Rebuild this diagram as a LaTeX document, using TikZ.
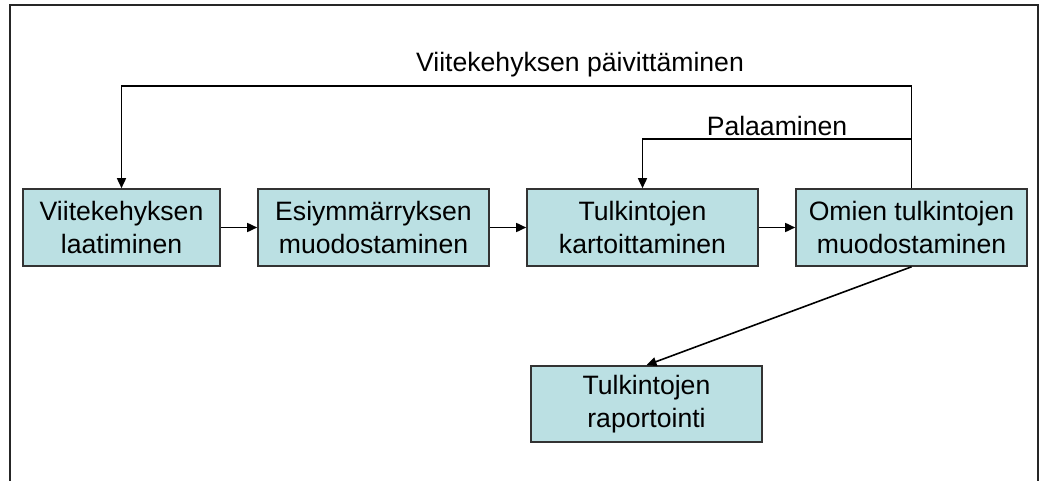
\documentclass[tikz,border=0pt]{standalone}
\usepackage{fontspec}
\setmainfont{Liberation Sans}
\usetikzlibrary{arrows.meta}
\definecolor{boxfill}{HTML}{BBE0E3}
\definecolor{boxline}{HTML}{333333}
\tikzset{
  stage/.style={draw=boxline, line width=1.6pt, fill=boxfill, minimum width=231pt,
    minimum height=77pt, inner sep=0pt, align=center,
    font=\fontsize{26.6pt}{33pt}\selectfont},
  arr/.style={line width=1.6pt, -{Triangle[length=10pt,width=9pt]}},
  lbl/.style={anchor=base, inner sep=0pt, font=\fontsize{26.6pt}{33pt}\selectfont},
  frame/.style={line width=1.8pt, draw=black!85}
}
\begin{document}
\begin{tikzpicture}[x=1pt,y=-1pt]
\useasboundingbox (0,0) rectangle (1039,481);
% outer frame, open at the bottom
\draw[frame] (10,481) -- (10,5) -- (1038,5) -- (1038,481);

% process stages
\node[stage, minimum width=197pt] (s1) at (121.5,227.5) {Viitekehyksen\\laatiminen};
\node[stage] (s2) at (373.5,227.5) {Esiymmärryksen\\muodostaminen};
\node[stage] (s3) at (642.5,227.5) {Tulkintojen\\kartoittaminen};
\node[stage] (s4) at (911.5,227.5) {Omien tulkintojen\\muodostaminen};
\node[stage, minimum height=76pt] (s5) at (646.5,404) {Tulkintojen\\raportointi};

% forward flow
\draw[arr] (s1.east) -- (s2.west);
\draw[arr] (s2.east) -- (s3.west);
\draw[arr] (s3.east) -- (s4.west);
\draw[arr] (s4.south) -- (s5.north);

% feedback loops
\coordinate (top) at (911.5,86);
\coordinate (mid) at (911.5,139);
\draw[line width=1.6pt] (s4.north) -- (top);
\draw[arr] (top) -| (s1.north);
\draw[arr] (mid) -| (s3.north);

% loop labels
\node[lbl] (l1) at (580,72) {Viitekehyksen päivittäminen};
\node[lbl] (l2) at (777,136) {Palaaminen};
\end{tikzpicture}
\end{document}
